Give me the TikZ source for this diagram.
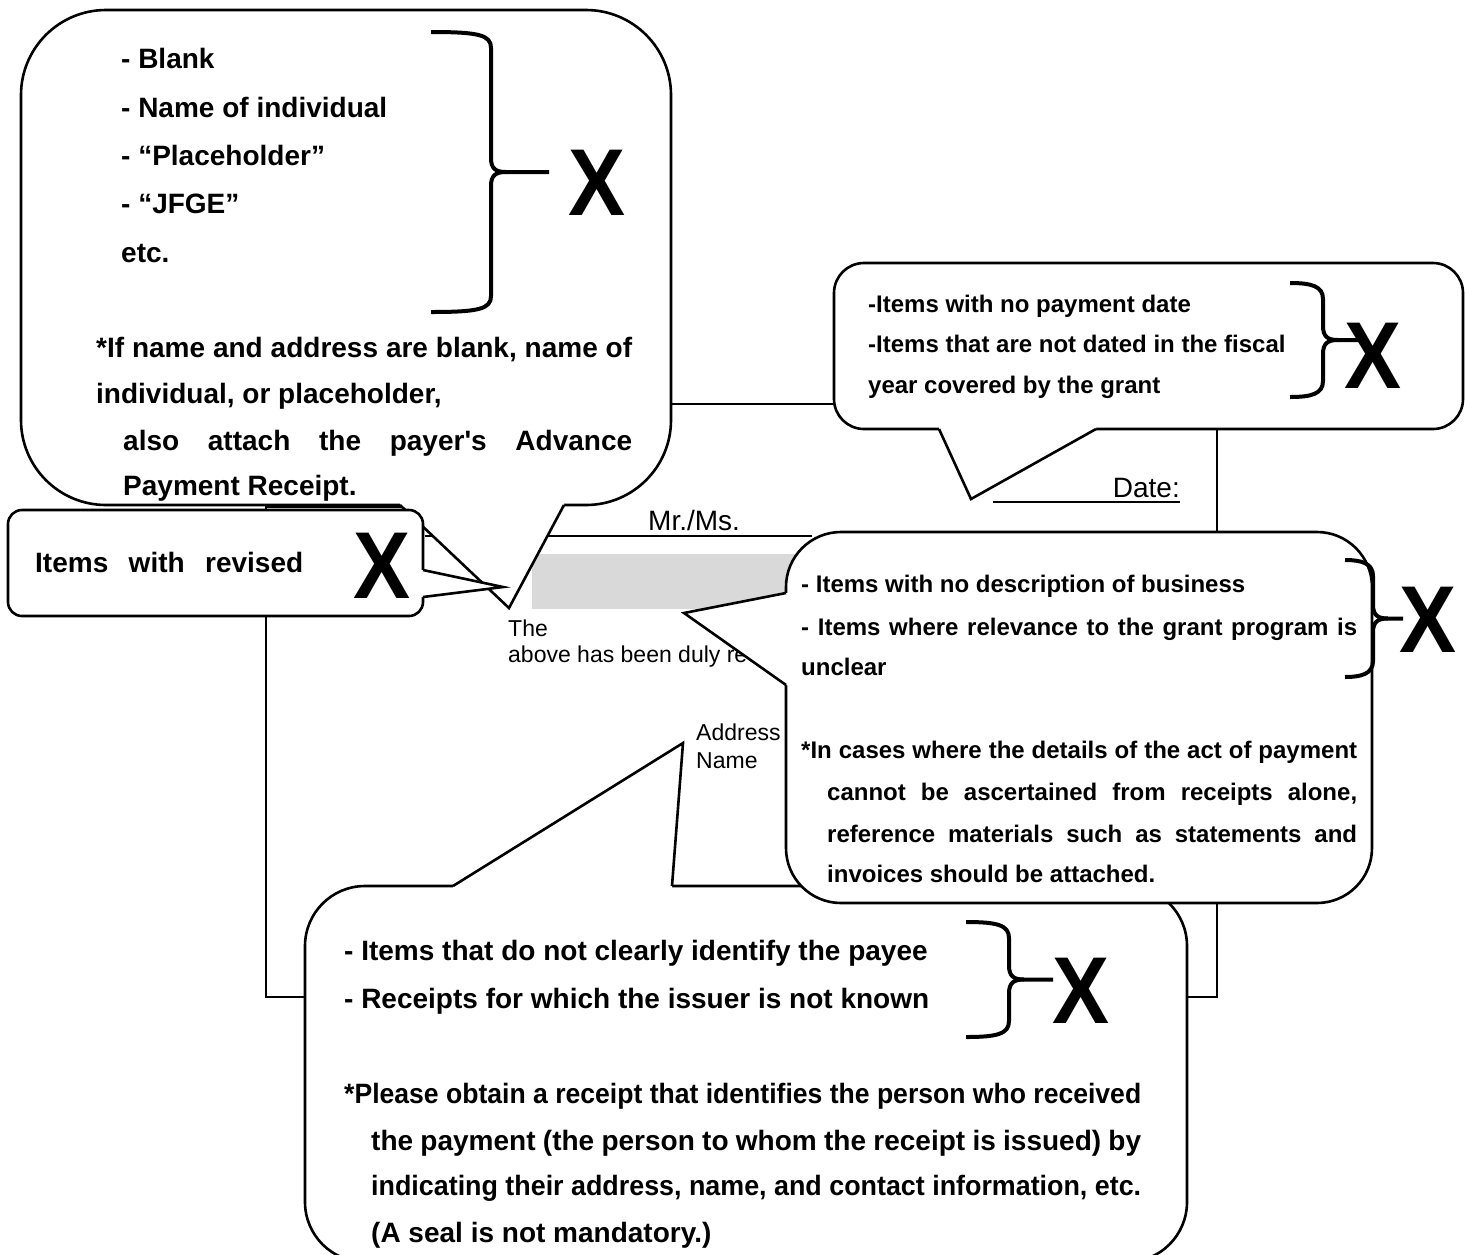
\documentclass[tikz,border=0pt]{standalone}
\usepackage{fontspec}
\setmainfont{Liberation Sans}
\definecolor{boxgray}{HTML}{D9D9D9}
\newcommand\xbrace[5]{%
 \pgfmathsetmacro\ym{(#3+#4)/2}%
 \draw[bracestyle] (#1,#3) .. controls ({#2-12},#3) and (#2,{#3+3}) .. (#2,{#3+16}) -- (#2,{\ym-14}) .. controls (#2,{\ym-3}) and ({#2+5},\ym) .. ({#2+15},\ym) -- (#5,\ym);
 \draw[bracestyle] (#1,#4) .. controls ({#2-12},#4) and (#2,{#4-3}) .. (#2,{#4-16}) -- (#2,{\ym+14}) .. controls (#2,{\ym+3}) and ({#2+5},\ym) .. ({#2+15},\ym);
}
\newcommand\bigx{\scalebox{0.9}[1]{X}}
\begin{document}
\begin{tikzpicture}[x=1pt,y=-1pt,
  frame/.style={line width=2.2pt},
  callout/.style={draw, fill=white, line width=2.6pt},
  tailline/.style={line width=2.6pt, line join=miter},
  bracestyle/.style={line width=4pt, line cap=butt},
  bt/.style={font=\fontsize{28}{34}\selectfont\bfseries, inner sep=0pt, anchor=base west},
  bs/.style={font=\fontsize{24}{29}\selectfont\bfseries, inner sep=0pt, anchor=base west},
  nt/.style={font=\fontsize{28}{34}\selectfont, inner sep=0pt, anchor=base west},
  st/.style={font=\fontsize{23}{28}\selectfont, inner sep=0pt, anchor=base west},
  xm/.style={font=\fontsize{95}{95}\selectfont\bfseries, inner sep=0pt, anchor=base}]
\useasboundingbox (0,0) rectangle (1465,1254);
\fill[white] (0,0) rectangle (1465,1254);

% receipt frame
\draw[frame] (266,404) rectangle (1217,997);
\draw[frame] (266,507) -- (402,507);
\fill[boxgray] (532,554) rectangle (812,609);
\draw[frame] (425,536) -- (812,536);
\draw[frame] (993,502) -- (1180,502);
\node[nt, anchor=base east] (date) at (1180,497) {Date:};
\node[nt] (mrms) at (648,530) {Mr./Ms.};
\node[st] (the) at (508,636) {The};
\node[st] (above) at (508,662) {above has been duly received};
\node[st] (addr) at (696,740) {Address};
\node[st] (name) at (696,768) {Name};

% bottom callout
\draw[callout, rounded corners=60pt] (305,886) rectangle (1187,1262);
\fill[white] (453,891) -- (453,886) -- (683,743) -- (672,886) -- (672,891) -- cycle;
\draw[tailline] (453,886) -- (683,743) -- (672,886);
\node[bt] (b1) at (344,960) {- Items that do not clearly identify the payee};
\node[bt] (b2) at (344,1008) {- Receipts for which the issuer is not known};
\node[bt] (b3) at (344,1103) {\resizebox{797pt}{\height}{*Please obtain a receipt that identifies the person who received}};
\node[bt] (b4) at (371,1150) {\makebox[770pt][s]{the payment (the person to whom the receipt is issued) by}};
\node[bt] (b5) at (371,1195) {\resizebox{770pt}{\height}{indicating their address, name, and contact information, etc.}};
\node[bt] (b6) at (371,1242) {(A seal is not mandatory.)};
\xbrace{966}{1009}{922}{1037}{1053}
\node[xm] (bx) at (1081,1023) {\bigx};

% right callout
\draw[callout, rounded corners=55pt] (786,532) rectangle (1372,903);
\fill[white] (791,593) -- (786,593) -- (684,613) -- (786,685) -- (791,685) -- cycle;
\draw[tailline] (786,593) -- (684,613) -- (786,685);
\node[bs] (r1) at (801,592) {- Items with no description of business};
\node[bs] (r2) at (801,635) {\makebox[556pt][s]{- Items where relevance to the grant program is}};
\node[bs] (r3) at (801,675) {unclear};
\node[bs] (r4) at (801,758) {\makebox[556pt][s]{*In cases where the details of the act of payment}};
\node[bs] (r5) at (827,800) {\makebox[530pt][s]{cannot be ascertained from receipts alone,}};
\node[bs] (r6) at (827,842) {\makebox[530pt][s]{reference materials such as statements and}};
\node[bs] (r7) at (827,882) {invoices should be attached.};
\xbrace{1345}{1373}{560}{677}{1403}
\node[xm] (rx) at (1428,652) {\bigx};

% top-right callout
\draw[callout, rounded corners=30pt] (834,263) rectangle (1463,429);
\fill[white] (939,424) -- (939,429) -- (971,499) -- (1096,429) -- (1096,424) -- cycle;
\draw[tailline] (939,429) -- (971,499) -- (1096,429);
\node[bs] (t1) at (868,312) {-Items with no payment date};
\node[bs] (t2) at (868,352) {-Items that are not dated in the fiscal};
\node[bs] (t3) at (868,393) {year covered by the grant};
\xbrace{1290}{1323}{283}{397}{1360}
\node[xm] (tx) at (1373,388) {\bigx};

% top-left callout
\draw[callout, rounded corners=85pt] (21,10) rectangle (671,505);
\fill[white] (400,500) -- (400,505) -- (509,608) -- (564,505) -- (564,500) -- cycle;
\draw[tailline] (400,505) -- (509,608) -- (564,505);
\node[bt] (l1) at (121,68) {- Blank};
\node[bt] (l2) at (121,117) {- Name of individual};
\node[bt] (l3) at (121,165) {- “Placeholder”};
\node[bt] (l4) at (121,213) {- “JFGE”};
\node[bt] (l5) at (121,262) {etc.};
\node[bt] (l6) at (96,357) {\makebox[536pt][s]{*If name and address are blank, name of}};
\node[bt] (l7) at (96,403) {individual, or placeholder,};
\node[bt] (l8) at (123,450) {\makebox[509pt][s]{also attach the payer\textquotesingle s Advance}};
\node[bt] (l9) at (123,495) {Payment Receipt.};
\xbrace{431}{491}{32}{312}{549}
\node[xm] (lx) at (597,215) {\bigx};

% small callout
\draw[callout, rounded corners=14pt] (8,510) rectangle (423,616);
\fill[white] (418,570) -- (423,570) -- (503,587) -- (423,597) -- (418,597) -- cycle;
\draw[tailline] (423,570) -- (503,587) -- (423,597);
\node[bt] (s1) at (35,572) {\makebox[268pt][s]{Items with revised}};
\node[xm] (sx) at (382,598) {\bigx};
\end{tikzpicture}
\end{document}
